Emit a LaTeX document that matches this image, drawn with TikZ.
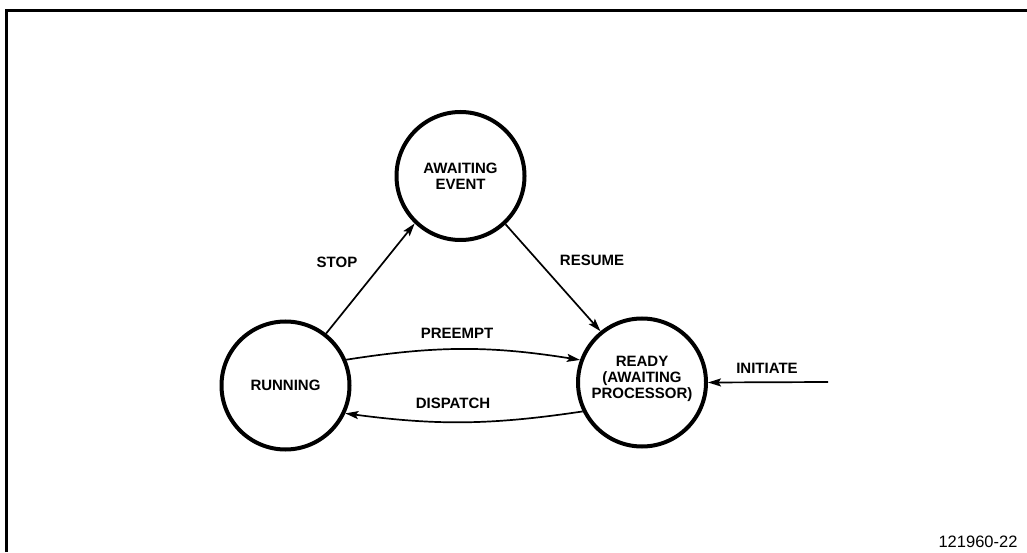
\documentclass[tikz,border=0pt]{standalone}
\usepackage{fontspec}
\setmainfont{Liberation Sans}
\usetikzlibrary{arrows.meta}
\begin{document}
\begin{tikzpicture}[x=1pt,y=1pt,
  state/.style={circle,draw,line width=4pt,minimum size=128pt,inner sep=0pt,
    align=center,font=\bfseries\fontsize{15}{16}\selectfont},
  conn/.style={line width=1.7pt,-{Stealth[length=13pt,width=8pt,inset=2.5pt]}},
  lbl/.style={font=\bfseries\fontsize{15}{16}\selectfont,inner sep=0pt},
  frame/.style={line width=3pt}]
\useasboundingbox (0,0) rectangle (1027,552);
% frame (top and left edges)
\coordinate (fl) at (6,0);
\coordinate (fc) at (6,541);
\coordinate (fr) at (1027,541);
\draw[frame] (fl) -- (fc) -- (fr);
% states
\node[state] (await) at (460.5,376) {AWAITING\\EVENT};
\node[state] (run) at (285.5,166.5) {RUNNING};
\node[state] (ready) at (642,169.5) {};
\node[lbl,align=center] (readytxt) at (642,173) {READY\\(AWAITING\\PROCESSOR)};
% connectors
\draw[conn] (run.52) -- (await.226);
\draw[conn] (await.313) -- (ready.129);
\draw[conn] (run.23) to[bend left=9] (ready.160);
\draw[conn] (ready.206) to[bend left=8] (run.335);
\coordinate (init) at (828,170);
\draw[conn] (init) -- (ready.0);
% labels
\node[lbl] (lstop) at (337,290) {STOP};
\node[lbl] (lresume) at (592,292) {RESUME};
\node[lbl] (lpre) at (457,219) {PREEMPT};
\node[lbl] (ldis) at (453,149) {DISPATCH};
\node[lbl] (linit) at (767,184) {INITIATE};
\node[inner sep=0pt,font=\fontsize{16.5}{18}\selectfont] (fig) at (978,10) {121960-22};
\end{tikzpicture}
\end{document}
